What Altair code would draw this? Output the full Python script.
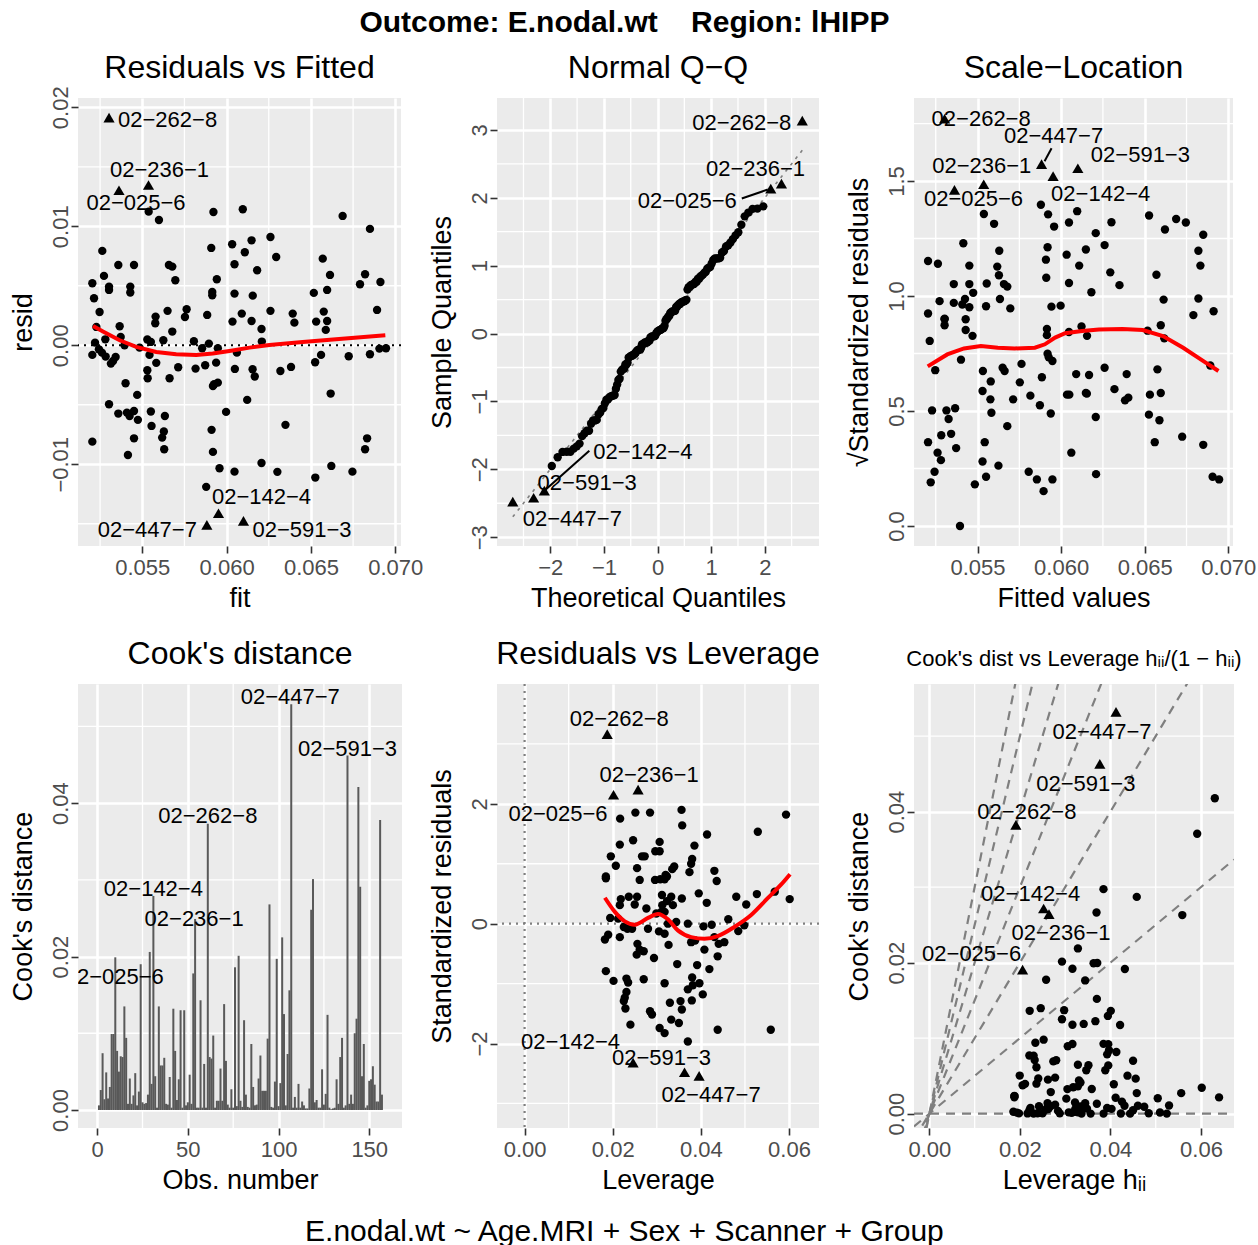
import altair as alt
import pandas as pd

FONT = "Liberation Sans"
MINUS = "replace(datum.label, '-', '−')"
NBSP = "\u00a0"

MAIN_TITLE = "Outcome: E.nodal.wt" + NBSP * 4 + "Region: lHIPP"
CAPTION = "E.nodal.wt ~ Age.MRI + Sex + Scanner + Group"

# ---------------- flagged observations ----------------
FLAG_IDS = ["02−262−8", "02−236−1", "02−025−6", "02−142−4", "02−447−7", "02−591−3"]
FLAG_FIT = [0.05303, 0.05537, 0.05362, 0.05952, 0.05883, 0.06100]
FLAG_RESID = [0.01913, 0.01347, 0.01303, -0.01412, -0.01510, -0.01476]
FLAG_LEV = [0.01875, 0.02575, 0.02018, 0.02462, 0.03960, 0.03629]
FLAG_STD = [3.163, 2.236, 2.152, -2.320, -2.540, -2.480]
FLAG_OBS = [61, 54, 10, 31, 107, 138]

# residual standard error and number of model coefficients
SIGMA = 0.0061
N_PARAMS = 5

# ---------------- residuals vs fitted ----------------
FIT = [0.05538, 0.05599, 0.05922, 0.06096, 0.06688, 0.06850, 0.05263, 0.05909, 0.06033, 0.06108,
       0.06148, 0.06260, 0.06294, 0.06047, 0.06181, 0.05358, 0.05451, 0.05658, 0.05678, 0.05696,
       0.05273, 0.05204, 0.05214, 0.05303, 0.05303, 0.05429, 0.05429, 0.05942, 0.05915, 0.05915,
       0.06047, 0.06155, 0.06570, 0.06613, 0.06517, 0.06596, 0.06791, 0.06821, 0.06912, 0.06892,
       0.05247, 0.05366, 0.05228, 0.05579, 0.05577, 0.05650, 0.05763, 0.05753, 0.05885, 0.05678,
       0.06035, 0.06090, 0.06148, 0.06207, 0.06260, 0.06392, 0.06402, 0.06531, 0.06576, 0.06596,
       0.06588, 0.05372, 0.05281, 0.05220, 0.05395, 0.05530, 0.05551, 0.05625, 0.05806, 0.05484,
       0.05243, 0.05261, 0.05204, 0.05283, 0.05342, 0.05327, 0.05314, 0.05543, 0.05583, 0.05530,
       0.05532, 0.05713, 0.05662, 0.05816, 0.05855, 0.05895, 0.05873, 0.05938, 0.05948, 0.06049,
       0.06061, 0.06209, 0.06154, 0.06167, 0.06319, 0.06382, 0.06525, 0.06560, 0.06724, 0.06850,
       0.06906, 0.06945, 0.05401, 0.05470, 0.05303, 0.05358, 0.05409, 0.05425, 0.05451, 0.05474,
       0.05551, 0.05555, 0.05634, 0.05628, 0.05618, 0.05630, 0.05451, 0.05415, 0.05204, 0.05919,
       0.05948, 0.05926, 0.05997, 0.06122, 0.05911, 0.05919, 0.05958, 0.06047, 0.05879, 0.06207,
       0.06301, 0.06349, 0.06617, 0.06526, 0.06621, 0.06746, 0.06833, 0.06821]
RESID = [0.01123, 0.01053, 0.01120, 0.01143, 0.01087, 0.00978, 0.00793, 0.00818, 0.00849, 0.00782,
         0.00882, 0.00910, 0.00742, 0.00681, 0.00630, 0.00675, 0.00675, 0.00675, 0.00661, 0.00546,
         0.00583, 0.00521, 0.00395, 0.00493, 0.00465, 0.00493, 0.00443, 0.00555, 0.00448, 0.00420,
         0.00434, 0.00417, 0.00728, 0.00591, 0.00440, 0.00465, 0.00513, 0.00597, 0.00532, 0.00297,
         0.00280, 0.00160, 0.00154, 0.00241, 0.00185, 0.00289, 0.00303, 0.00238, 0.00255, 0.00115,
         0.00199, 0.00266, 0.00204, 0.00137, 0.00289, 0.00266, 0.00190, 0.00199, 0.00283, 0.00204,
         0.00129, 0.00070, 0.00050, 0.00022, 0.00000, 0.00048, 0.00028, 0.00042, 0.00034, -0.00020,
         -0.00034, -0.00062, -0.00081, -0.00095, -0.00098, -0.00132, -0.00154, -0.00081, -0.00148, -0.00210,
         -0.00277, -0.00185, -0.00277, -0.00196, -0.00025, 0.00014, -0.00168, -0.00146, -0.00025, -0.00199,
         -0.00062, 0.00031, -0.00202, -0.00263, -0.00216, -0.00182, -0.00143, -0.00081, -0.00092, -0.00076,
         -0.00028, -0.00025, -0.00319, -0.00417, -0.00496, -0.00574, -0.00566, -0.00594, -0.00552, -0.00627,
         -0.00557, -0.00678, -0.00594, -0.00725, -0.00776, -0.00874, -0.00782, -0.00922, -0.00810, -0.00342,
         -0.00314, -0.00328, -0.00560, -0.00459, -0.00711, -0.00896, -0.01034, -0.01062, -0.01190, -0.00989,
         -0.01064, -0.00669, -0.00406, -0.01112, -0.01014, -0.01062, -0.00782, -0.00874]

SMOOTH1_FIT = [0.05208, 0.05267, 0.05366, 0.05464, 0.05583, 0.05701, 0.05820, 0.05918, 0.06017,
               0.06136, 0.06254, 0.06451, 0.06649, 0.06941]
SMOOTH1_RESID = [0.00162, 0.00115, 0.00042, -0.00014, -0.00056, -0.00076, -0.00081, -0.00070, -0.00048,
                 -0.00020, 0.00003, 0.00028, 0.00050, 0.00084]

SMOOTH3_FIT = [0.05202, 0.05319, 0.05419, 0.05520, 0.05621, 0.05722, 0.05843, 0.05903, 0.05964,
               0.06024, 0.06125, 0.06226, 0.06367, 0.06488, 0.06609, 0.06730, 0.06851, 0.06941]
SMOOTH3_Y = [0.694, 0.746, 0.772, 0.783, 0.775, 0.772, 0.775, 0.790, 0.819, 0.838, 0.848, 0.854,
             0.857, 0.852, 0.826, 0.775, 0.717, 0.674]

# ---------------- Cook's distance by observation ----------------
COOK = [0.0006, 0.0026, 0.0074, 0.0014, 0.0049, 0.0015, 0.0030, 0.0099, 0.0099, 0.0199,
        0.0077, 0.0050, 0.0070, 0.0069, 0.0135, 0.0094, 0.0008, 0.0041, 0.0008, 0.0019,
        0.0048, 0.0006, 0.0024, 0.0190, 0.0010, 0.0008, 0.0009, 0.0020, 0.0206, 0.0034,
        0.0279, 0.0044, 0.0003, 0.0135, 0.0058, 0.0058, 0.0068, 0.0008, 0.0007, 0.0043,
        0.0003, 0.0132, 0.0077, 0.0013, 0.0040, 0.0130, 0.0003, 0.0130, 0.0006, 0.0010,
        0.0046, 0.0008, 0.0178, 0.0249, 0.0003, 0.0003, 0.0143, 0.0003, 0.0060, 0.0003,
        0.0373, 0.0069, 0.0067, 0.0097, 0.0003, 0.0012, 0.0012, 0.0054, 0.0012, 0.0138,
        0.0064, 0.0007, 0.0003, 0.0027, 0.0003, 0.0186, 0.0005, 0.0201, 0.0012, 0.0004,
        0.0117, 0.0020, 0.0004, 0.0003, 0.0086, 0.0030, 0.0006, 0.0007, 0.0041, 0.0071,
        0.0025, 0.0025, 0.0025, 0.0093, 0.0268, 0.0004, 0.0003, 0.0037, 0.0197, 0.0005,
        0.0035, 0.0225, 0.0125, 0.0006, 0.0073, 0.0156, 0.0529, 0.0003, 0.0017, 0.0003,
        0.0034, 0.0003, 0.0011, 0.0006, 0.0002, 0.0002, 0.0028, 0.0261, 0.0301, 0.0010,
        0.0013, 0.0003, 0.0003, 0.0053, 0.0007, 0.0021, 0.0124, 0.0003, 0.0001, 0.0002,
        0.0003, 0.0040, 0.0008, 0.0069, 0.0094, 0.0003, 0.0006, 0.0462, 0.0008, 0.0020,
        0.0008, 0.0100, 0.0119, 0.0421, 0.0291, 0.0044, 0.0086, 0.0003, 0.0006, 0.0038,
        0.0040, 0.0057, 0.0033, 0.0011, 0.0011, 0.0378, 0.0020]

# ---------------- residuals vs leverage ----------------
LEV = [0.02168, 0.02514, 0.02846, 0.03561, 0.03576, 0.04140, 0.05292, 0.05932,
       0.02161, 0.02462, 0.03064, 0.02966, 0.03064, 0.03854, 0.01957, 0.02070, 0.02665, 0.02725,
       0.02552, 0.03350, 0.03395, 0.03802, 0.03779, 0.03741, 0.04306, 0.04359, 0.01844, 0.01844,
       0.02612, 0.02959, 0.03079, 0.03177, 0.03230, 0.03199,
       0.02183, 0.02161, 0.02364, 0.02552, 0.02499, 0.02763, 0.03117, 0.03124, 0.03102, 0.03230,
       0.03327, 0.03365, 0.03568, 0.03952, 0.04133, 0.04803, 0.05029, 0.05270, 0.05676, 0.06015,
       0.01942, 0.02123, 0.02251, 0.02439, 0.02989, 0.03177, 0.03252, 0.03440, 0.03704, 0.04058,
       0.04246, 0.04622, 0.04984,
       0.01822, 0.01897, 0.02161, 0.02334, 0.02800, 0.03049, 0.03177, 0.03267, 0.03779, 0.03869,
       0.04080, 0.04306, 0.04404, 0.04532, 0.04848, 0.04381,
       0.02560, 0.02612, 0.02703, 0.02544, 0.02936, 0.03463, 0.03915, 0.04193,
       0.01844, 0.02018, 0.02311, 0.02349, 0.02703, 0.03177, 0.03802, 0.03704, 0.03817, 0.03967,
       0.04043,
       0.02311, 0.02273, 0.02251, 0.02288, 0.03297, 0.03538, 0.03568, 0.03794,
       0.02846, 0.02891, 0.03327, 0.03501, 0.02401, 0.03064, 0.03177, 0.03704, 0.04381, 0.05586]
STD = [1.753, 1.854, 1.854, 1.899, 1.640, 1.489, 1.534, 1.820,
       1.320, 1.393, 1.365, 1.208, 1.208, 1.303, 1.124, 0.966, 1.124, 1.124,
       0.927, 0.910, 0.955, 1.079, 1.000, 0.860, 0.882, 0.713, 0.787, 0.758,
       0.730, 0.730, 0.742, 0.742, 0.787, 0.815,
       0.410, 0.309, 0.449, 0.449, 0.320, 0.253, 0.478, 0.309, 0.197, 0.376,
       0.449, 0.309, 0.421, 0.506, 0.348, 0.449, 0.320, 0.494, 0.534, 0.410,
       0.096, 0.084, -0.056, -0.084, 0.169, 0.197, 0.000, 0.028, 0.000, -0.045,
       -0.017, 0.073, -0.028,
       -0.264, -0.185, -0.225, -0.084, -0.084, -0.129, -0.169, -0.354, -0.309, -0.281,
       -0.433, -0.225, -0.337, -0.309, -0.124, -0.545,
       -0.337, -0.433, -0.461, -0.517, -0.573, -0.674, -0.691, -0.758,
       -0.792, -0.955, -0.916, -0.983, -0.927, -0.994, -0.899, -1.096, -1.028, -0.994,
       -1.180,
       -1.140, -1.236, -1.292, -1.416, -1.320, -1.292, -1.433, -1.281,
       -1.461, -1.517, -1.601, -1.657, -1.685, -1.742, -1.826, -1.966, -1.770, -1.770]

SMOOTH5_LEV = [0.01822, 0.02048, 0.02274, 0.02499, 0.02801, 0.03026, 0.03252, 0.03478, 0.03779,
               0.04080, 0.04382, 0.04758, 0.05134, 0.05511, 0.05812, 0.06023]
SMOOTH5_STD = [0.433, 0.197, 0.039, -0.017, 0.096, 0.163, 0.073, -0.112, -0.225,
               -0.253, -0.208, -0.056, 0.140, 0.421, 0.646, 0.826]

# Cook's distance contour slopes (panel 6)
CONTOUR_SLOPES = [0.0, 0.5, 1.0, 1.5, 2.0, 2.5, 3.0]

# ---------------- axes ----------------
P1_XDOM, P1_YDOM = [0.05119, 0.07034], [-0.01687, 0.02078]
P2_XDOM, P2_YDOM = [-2.994, 3.011], [-3.13, 3.47]
P3_XDOM, P3_YDOM = [0.05120, 0.07028], [-0.087, 1.861]
P4_XDOM, P4_YDOM = [-7.8, 165.3], [-0.00235, 0.05553]
P5_XDOM, P5_YDOM = [-0.00626, 0.0668], [-3.41, 4.0]
P6_XDOM, P6_YDOM = [-0.0034, 0.0673], [-0.0019, 0.0569]

P1_XT, P1_YT = [0.055, 0.060, 0.065, 0.070], [-0.01, 0.0, 0.01, 0.02]
P2_XT, P2_YT = [-2, -1, 0, 1, 2], [-3, -2, -1, 0, 1, 2, 3]
P3_XT, P3_YT = [0.055, 0.060, 0.065, 0.070], [0.0, 0.5, 1.0, 1.5]
P4_XT, P4_YT = [0, 50, 100, 150], [0.0, 0.02, 0.04]
P5_XT, P5_YT = [0.0, 0.02, 0.04, 0.06], [-2, 0, 2]
P6_XT, P6_YT = [0.0, 0.02, 0.04, 0.06], [0.0, 0.02, 0.04]

P1_MX, P1_MY = [0.0525, 0.0575, 0.0625, 0.0675], [-0.015, -0.005, 0.005, 0.015]
P2_MX, P2_MY = [-2.5, -1.5, -0.5, 0.5, 1.5, 2.5], [-2.5, -1.5, -0.5, 0.5, 1.5, 2.5]
P3_MX, P3_MY = [0.0525, 0.0575, 0.0625, 0.0675], [0.25, 0.75, 1.25, 1.75]
P4_MX, P4_MY = [25, 75, 125], [0.01, 0.03, 0.05]
P5_MX, P5_MY = [0.01, 0.03, 0.05], [-3, -1, 1, 3]
P6_MX, P6_MY = [0.01, 0.03, 0.05], [0.01, 0.03, 0.05]

# ---------------- label placement (style) ----------------
LAB1 = {"02−262−8": (9, 2, "left"), "02−236−1": (11, -15, "center"), "02−025−6": (17, 13, "center"),
        "02−142−4": (43, -16, "center"), "02−447−7": (-10, 5, "right"), "02−591−3": (9, 9, "left")}
LAB2 = {"02−262−8": (-11, 2, "right"), "02−236−1": (-26, -15, "center"), "02−025−6": (-34, 12, "right"),
        "02−142−4": (49, -39, "left"), "02−591−3": (4, -15, "left"), "02−447−7": (10, 17, "left")}
LAB3 = {"02−262−8": (-13, 0, "left"), "02−447−7": (12, -28, "center"), "02−591−3": (13, -13, "left"),
        "02−236−1": (-2, -18, "center"), "02−142−4": (-2, 18, "left"), "02−025−6": (19, 9, "center")}
LAB4 = {"02−447−7": (-1, -7, "center"), "02−591−3": (0, -7, "center"), "02−262−8": (0, -8, "center"),
        "02−142−4": (0, -7, "center"), "02−236−1": (-1, 0, "center"), "02−025−6": (-1, 20, "center")}
LAB5 = {"02−262−8": (12, -15, "center"), "02−236−1": (11, -15, "center"), "02−025−6": (-6, 19, "right"),
        "02−142−4": (-13, -21, "right"), "02−591−3": (-23, -14, "center"), "02−447−7": (12, 19, "center")}
LAB6 = {"02−447−7": (-14, 20, "center"), "02−591−3": (-14, 20, "center"), "02−262−8": (11, -13, "center"),
        "02−142−4": (-13, -14, "center"), "02−236−1": (12, 19, "center"), "02−025−6": (-51, -16, "center")}

# ---------------- data frames ----------------
df1 = pd.DataFrame({
    "fit": FIT + FLAG_FIT,
    "resid": RESID + FLAG_RESID,
    "id": [""] * len(FIT) + FLAG_IDS,
    "flag": [0] * len(FIT) + [1] * len(FLAG_IDS),
})
df4 = pd.DataFrame({"obs": list(range(1, len(COOK) + 1)), "cook": COOK, "id": [""] * len(COOK)})
for lid, ob in zip(FLAG_IDS, FLAG_OBS):
    df4.loc[df4["obs"] == ob, "id"] = lid
df5 = pd.DataFrame({
    "lev": LEV + FLAG_LEV,
    "std": STD + FLAG_STD,
    "id": [""] * len(LEV) + FLAG_IDS,
    "flag": [0] * len(LEV) + [1] * len(FLAG_IDS),
})

PT = dict(color="black", opacity=1, size=70, filled=True)
TRI = dict(shape="triangle-up", color="black", opacity=1, size=125, filled=True)
LBL = dict(baseline="middle", fontSize=22, font=FONT, color="black", clip=True)


class Panel:
    def __init__(self, xdom, ydom, xt, yt, xfmt, yfmt, xtitle, ytitle):
        self.xs = alt.Scale(domain=xdom, nice=False, zero=False)
        self.ys = alt.Scale(domain=ydom, nice=False, zero=False)
        self.ax = alt.Axis(values=xt, format=xfmt, title=xtitle, labelExpr=MINUS)
        self.ay = alt.Axis(values=yt, format=yfmt, title=ytitle, labelExpr=MINUS)

    def X(self, f):
        return alt.X(f, scale=self.xs, axis=self.ax)

    def Y(self, f):
        return alt.Y(f, scale=self.ys, axis=self.ay)

    def minor(self, mx, my):
        lx = alt.Chart(pd.DataFrame({"v": mx})).mark_rule(color="white", strokeWidth=1.3).encode(
            x=self.X("v:Q"))
        ly = alt.Chart(pd.DataFrame({"v": my})).mark_rule(color="white", strokeWidth=1.3).encode(
            y=self.Y("v:Q"))
        return [lx, ly]

    def points(self, base, xf, yf):
        circ = base.transform_filter(alt.datum.flag == 0).mark_point(**PT).encode(x=self.X(xf), y=self.Y(yf))
        tri = base.transform_filter(alt.datum.flag == 1).mark_point(**TRI).encode(x=self.X(xf), y=self.Y(yf))
        return [circ, tri]

    def labels(self, base, xf, yf, offsets):
        out = []
        for lid, (dx, dy, al) in offsets.items():
            out.append(base.transform_filter(alt.datum.id == lid).mark_text(
                dx=dx, dy=dy, align=al, **LBL).encode(x=self.X(xf), y=self.Y(yf), text="id:N"))
        return out

    def hline(self, v, **kw):
        return alt.Chart(pd.DataFrame({"v": [v]})).mark_rule(**kw).encode(y=self.Y("v:Q"))

    def vline(self, v, **kw):
        return alt.Chart(pd.DataFrame({"v": [v]})).mark_rule(**kw).encode(x=self.X("v:Q"))

    def segment(self, base, xf, yf, lid, off):
        return base.transform_filter(alt.datum.id == lid).mark_rule(
            color="black", strokeWidth=2, xOffset=off[0], yOffset=off[1], x2Offset=off[2], y2Offset=off[3]
        ).encode(x=self.X(xf), y=self.Y(yf), x2=xf, y2=yf)


def ttl(text, size=32, offset=12):
    return alt.TitleParams(text, fontSize=size, font=FONT, fontWeight="normal", color="black",
                           anchor="middle", frame="group", offset=offset)


# ---------------- panel 1: Residuals vs Fitted ----------------
P1 = Panel(P1_XDOM, P1_YDOM, P1_XT, P1_YT, ".3f", ".2f", "fit", "resid")
b1 = alt.Chart(df1)
smooth1 = alt.Chart(pd.DataFrame({"fit": SMOOTH1_FIT, "resid": SMOOTH1_RESID})).mark_line(
    color="#FF0000", strokeWidth=4, clip=True).encode(x=P1.X("fit:Q"), y=P1.Y("resid:Q"))
p1 = alt.layer(
    *P1.minor(P1_MX, P1_MY),
    P1.hline(0.0, color="black", strokeDash=[2, 5], strokeWidth=2.2),
    *P1.points(b1, "fit:Q", "resid:Q"),
    smooth1,
    *P1.labels(b1, "fit:Q", "resid:Q", LAB1),
).properties(width=323, height=448, title=ttl("Residuals vs Fitted", offset=1))

# ---------------- panel 2: Normal Q-Q ----------------
P2 = Panel(P2_XDOM, P2_YDOM, P2_XT, P2_YT, "d", "d", "Theoretical Quantiles", "Sample Quantiles")
b2 = (alt.Chart(df1)
      .transform_calculate(std=f"datum.resid / {SIGMA}")
      .transform_window(rank="row_number()", sort=[alt.SortField("std", order="ascending")])
      .transform_joinaggregate(n="count()")
      .transform_calculate(theo="quantileNormal((datum.rank - 0.5) / datum.n)"))
qqline = b2.mark_line(color="#7F7F7F", strokeDash=[3, 5], strokeWidth=1.6, clip=True).encode(
    x=P2.X("theo:Q"), y=P2.Y("theo:Q"))
p2 = alt.layer(
    *P2.minor(P2_MX, P2_MY), qqline,
    P2.segment(b2, "theo:Q", "std:Q", "02−025−6", (-3, 1, -29, 10)),
    P2.segment(b2, "theo:Q", "std:Q", "02−142−4", (0, 0, 45, -40)),
    *P2.points(b2, "theo:Q", "std:Q"),
    *P2.labels(b2, "theo:Q", "std:Q", LAB2),
).properties(width=322, height=448, title=ttl("Normal Q−Q"))

# ---------------- panel 3: Scale-Location ----------------
P3 = Panel(P3_XDOM, P3_YDOM, P3_XT, P3_YT, ".3f", ".1f", "Fitted values", "√Standardized residuals")
b3 = alt.Chart(df1).transform_calculate(sl=f"sqrt(abs(datum.resid) / {SIGMA})")
smooth3 = alt.Chart(pd.DataFrame({"fit": SMOOTH3_FIT, "sl": SMOOTH3_Y})).mark_line(
    color="#FF0000", strokeWidth=4, clip=True).encode(x=P3.X("fit:Q"), y=P3.Y("sl:Q"))
p3 = alt.layer(
    *P3.minor(P3_MX, P3_MY),
    *P3.points(b3, "fit:Q", "sl:Q"),
    smooth3,
    P3.segment(b3, "fit:Q", "sl:Q", "02−447−7", (3, -3, 10, -16)),
    *P3.labels(b3, "fit:Q", "sl:Q", LAB3),
).properties(width=319, height=448, title=ttl("Scale−Location"))

# ---------------- panel 4: Cook's distance ----------------
P4 = Panel(P4_XDOM, P4_YDOM, P4_XT, P4_YT, "d", ".2f", "Obs. number", "Cook's distance")
b4 = alt.Chart(df4)
bars4 = b4.mark_bar(color="#595959", width=2.0).encode(x=P4.X("obs:Q"), y=P4.Y("cook:Q"), y2=alt.datum(0))
p4 = alt.layer(
    *P4.minor(P4_MX, P4_MY), bars4,
    *P4.labels(b4, "obs:Q", "cook:Q", LAB4),
).properties(width=324, height=444, title=ttl("Cook's distance"))

# ---------------- panel 5: Residuals vs Leverage ----------------
P5 = Panel(P5_XDOM, P5_YDOM, P5_XT, P5_YT, ".2f", "d", "Leverage", "Standardized residuals")
b5 = alt.Chart(df5)
smooth5 = alt.Chart(pd.DataFrame({"lev": SMOOTH5_LEV, "std": SMOOTH5_STD})).mark_line(
    color="#FF0000", strokeWidth=4, clip=True, interpolate="monotone").encode(x=P5.X("lev:Q"), y=P5.Y("std:Q"))
p5 = alt.layer(
    *P5.minor(P5_MX, P5_MY),
    P5.hline(0.0, color="#7F7F7F", strokeDash=[2, 5], strokeWidth=2.2),
    P5.vline(0.0, color="#7F7F7F", strokeDash=[2, 5], strokeWidth=2.2),
    *P5.points(b5, "lev:Q", "std:Q"),
    smooth5,
    *P5.labels(b5, "lev:Q", "std:Q", LAB5),
).properties(width=322, height=444, title=ttl("Residuals vs Leverage"))

# ---------------- panel 6: Cook's dist vs Leverage ----------------
P6 = Panel(P6_XDOM, P6_YDOM, P6_XT, P6_YT, ".2f", ".2f", "Leverage hᵢᵢ", "Cook's distance")
b6 = (alt.Chart(df5)
      .transform_calculate(g="datum.lev / (1 - datum.lev)")
      .transform_calculate(cook=f"datum.std * datum.std * datum.g / {N_PARAMS}"))
cont = pd.DataFrame([{"slope": s, "g": g} for s in CONTOUR_SLOPES for g in P6_XDOM])
contours = alt.Chart(cont).transform_calculate(cook="datum.slope * datum.g").mark_line(
    color="#7F7F7F", strokeDash=[9, 7], strokeWidth=2.2, clip=True).encode(
    x=P6.X("g:Q"), y=P6.Y("cook:Q"), detail="slope:N")
p6 = alt.layer(
    *P6.minor(P6_MX, P6_MY), contours,
    *P6.points(b6, "g:Q", "cook:Q"),
    *P6.labels(b6, "g:Q", "cook:Q", LAB6),
).properties(width=320, height=444, title=ttl("Cook's dist vs Leverage hᵢᵢ/(1 − hᵢᵢ)", 22))

grid = alt.concat(p1, p2, p3, p4, p5, p6, columns=3, bounds="flush", align="each",
                  spacing={"row": 138, "column": 95}).properties(
    title=alt.TitleParams(CAPTION, orient="bottom", fontSize=30, font=FONT, fontWeight="normal",
                          color="black", anchor="middle", offset=24, dx=-8))

chart = alt.vconcat(grid).properties(
    title=alt.TitleParams(MAIN_TITLE, fontSize=30, font=FONT, fontWeight="bold", color="black",
                          anchor="middle", offset=14, dx=-8),
    padding={"left": 8, "top": 7, "right": 0, "bottom": 0},
).configure_view(fill="#EBEBEB", strokeWidth=0).configure_axis(
    domain=False, grid=True, gridColor="white", gridWidth=2.6,
    tickColor="#333333", tickSize=7, tickWidth=1.6,
    labelColor="#4D4D4D", labelFontSize=22, labelFont=FONT, labelPadding=4, labelOverlap=False,
    titleFontSize=27, titleFont=FONT, titleFontWeight="normal", titleColor="black",
).configure_axisX(titlePadding=7).configure_axisY(
    labelAngle=270, labelAlign="center", labelBaseline="alphabetic", titlePadding=12)

chart.save("out.html", embed_options={"renderer": "svg", "actions": False})
